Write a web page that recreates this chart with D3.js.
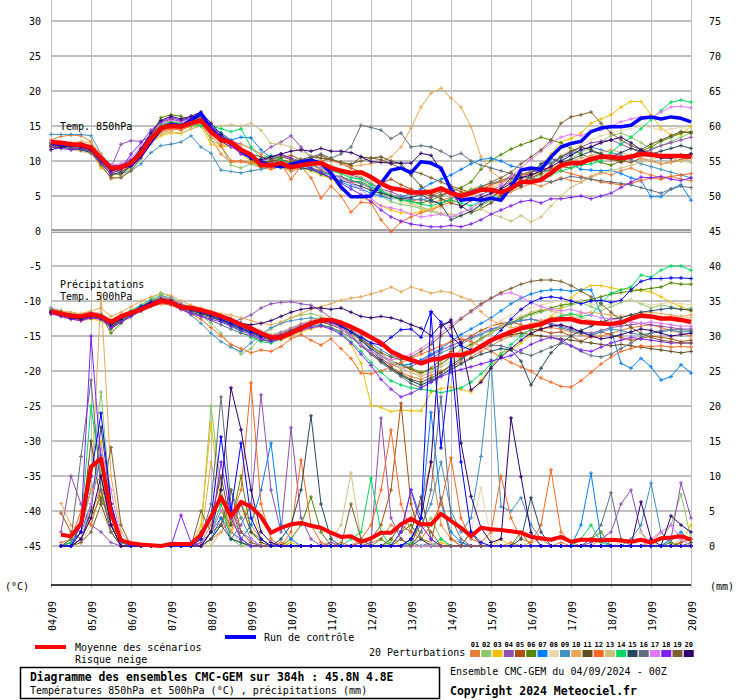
<!DOCTYPE html>
<html><head><meta charset="utf-8">
<script src="https://cdn.jsdelivr.net/npm/d3@7"></script>
<style>
body{margin:0;background:#fff;}
svg text{font-family:"DejaVu Sans Mono",monospace;fill:#000;}
</style></head><body>
<svg id="c" width="740" height="700"></svg>
<script>
// ---------------- DATA ----------------
const days = ["04/09","05/09","06/09","07/09","08/09","09/09","10/09","11/09","12/09","13/09","14/09","15/09","16/09","17/09","18/09","19/09","20/09"];
const leftTicks = [-45,-40,-35,-30,-25,-20,-15,-10,-5,0,5,10,15,20,25,30];
const rightTicks = [0,5,10,15,20,25,30,35,40,45,50,55,60,65,70,75];
const pertColors = ["#e8803a","#88c868","#f0c000","#9050b0","#b05010","#508800","#0080ff","#e8d8b0","#4090c0","#e8a858","#605020","#f86820","#d0c080","#00d860","#284860","#607080","#e078f8","#8020f8","#806030","#300070"];
const pertNames = ["01","02","03","04","05","06","07","08","09","10","11","12","13","14","15","16","17","18","19","20"];

// 6-hourly values, t = 0..64 (04/09 00Z .. 20/09 00Z)
const meanT850 = [12.7,12.6,12.4,12.3,11.9,10.4,9.0,9.1,9.7,11.1,
 13.2,14.7,15.0,14.9,15.4,15.8,14.2,13.0,12.7,11.6,
 10.9,9.4,9.4,9.7,9.1,9.4,9.6,9.7,9.0,8.6,
 8.3,8.4,7.7,6.8,6.1,5.9,5.5,5.5,5.6,6.1,
 5.4,5.0,5.4,5.9,5.9,5.5,6.1,7.0,7.0,7.3,
 8.3,9.4,9.7,9.7,10.3,10.6,10.6,10.4,10.6,11.0,
 10.9,10.7,10.7,10.7,10.6];
const ctlT850 = [12.5,12.4,12.3,12.2,11.8,10.2,8.9,9.2,9.4,10.8,
 12.8,14.6,15.2,15.0,15.8,16.8,14.6,13.2,12.6,11.5,
 10.5,9.8,9.4,9.2,9.5,9.9,10.1,9.7,8.3,6.3,
 4.9,4.9,5.0,6.8,8.7,9.0,8.3,9.9,9.7,9.0,
 5.9,4.4,4.6,4.4,4.7,4.4,6.3,8.7,9.0,8.8,
 10.6,12.0,12.5,12.8,14.2,14.7,14.9,14.9,15.1,16.1,
 16.3,16.0,16.3,16.1,15.6];
const meanT500 = [-11.5,-11.8,-12.1,-12.2,-11.9,-12.2,-13.0,-12.2,-11.7,-11.2,
 -10.6,-10.0,-10.2,-10.9,-11.0,-11.3,-11.7,-12.2,-12.7,-13.4,
 -13.9,-14.6,-15.2,-15.2,-14.6,-13.9,-13.2,-12.8,-12.7,-13.1,
 -13.7,-14.4,-15.2,-16.0,-17.2,-17.9,-18.4,-18.9,-18.4,-18.2,
 -17.7,-17.7,-17.3,-16.5,-15.6,-15.0,-14.4,-13.9,-13.6,-13.3,
 -12.7,-12.6,-12.6,-13.0,-13.1,-13.2,-13.3,-13.1,-12.5,-12.1,
 -12.2,-12.5,-12.5,-12.7,-13.0];
const ctlT500 = [-11.6,-11.9,-12.2,-12.4,-12.0,-12.3,-13.2,-12.4,-11.6,-10.8,
 -10.2,-9.8,-10.0,-10.8,-11.2,-11.6,-12.0,-12.6,-13.2,-13.8,
 -14.4,-15.0,-15.4,-15.0,-14.4,-13.8,-13.2,-12.8,-13.0,-13.6,
 -14.4,-15.2,-16.0,-16.3,-15.2,-14.1,-14.0,-15.2,-11.5,-13.0,
 -15.0,-16.4,-17.0,-16.6,-15.6,-14.2,-12.6,-11.2,-10.2,-9.6,
 -9.4,-9.6,-10.0,-10.4,-10.0,-9.9,-10.2,-9.9,-8.4,-7.2,
 -6.8,-6.8,-6.7,-6.7,-6.8];
// precipitation (mm / 6h), t = 1..64
const meanPrecip = [1.6,1.4,3.2,11.3,12.5,4.7,0.8,0.4,0.2,0.1,0,0.3,0.3,0.3,1.6,4.2,
 7.0,4.2,6.3,5.6,4.2,1.9,2.6,3.1,3.3,2.9,2.6,1.9,1.3,1.4,0.6,1.1,
 1.9,1.9,3.1,3.9,3.1,3.1,4.6,3.6,2.6,1.4,2.6,2.4,2.3,2.1,1.9,1.3,
 1.1,0.9,1.3,0.6,0.9,0.9,0.8,0.9,0.8,0.6,0.9,0.5,1.1,1.2,1.4,0.9];
const ctlPrecip = [0,0,2,10,19,6,1,0,0,0,0,0,0,0,1,4,
 15.6,5,14.7,4,1,0,0,0,0,0,0,0,0,0,0,0,
 0,0,0,1,4,33.3,14,27,12,2,0.5,0,0,0,0,0,
 0,0,0,0,0,0,0,0,0,0,0,0,0,0,0,0];

const pertT850 = [
[13.0,13.5,13.7,13.6,12.8,10.5,8.6,8.8,9.5,11.0,13.0,14.5,15.0,15.2,15.6,15.2,13.2,11.0,9.8,9.9,9.6,9.0,8.8,9.2,8.5,9.0,9.4,8.8,8.0,7.6,7.0,6.8,6.0,5.2,4.8,4.5,4.2,4.6,4.0,4.4,4.8,5.2,5.8,6.0,5.4,5.0,5.6,6.2,6.8,6.4,7.0,7.6,7.2,7.0,7.8,8.4,8.0,8.6,9.0,8.4,8.0,7.6,7.8,7.4,7.2],
[12.5,12.4,12.2,12.0,11.5,10.0,8.0,8.2,9.0,10.6,12.8,14.4,14.9,14.6,15.0,15.3,13.0,12.2,9.4,9.0,9.6,9.2,9.6,10.0,9.4,9.8,10.2,9.6,8.8,8.4,7.8,7.4,6.2,5.0,4.2,3.8,3.6,3.2,2.8,2.4,2.0,2.2,2.8,3.6,4.4,5.0,5.8,6.6,7.4,8.0,8.8,9.6,10.4,11.2,12.0,12.8,13.6,14.0,13.4,12.6,11.8,12.2,12.8,13.4,14.0],
[12.0,12.2,12.0,11.8,11.4,9.0,7.8,8.6,9.4,10.8,12.6,13.6,14.0,13.9,14.6,15.0,12.4,12.0,12.2,11.0,10.0,9.2,9.0,9.4,8.8,9.0,8.6,8.0,7.4,6.0,5.0,4.8,4.2,3.6,3.0,2.6,2.5,2.8,3.2,3.8,4.6,5.4,6.0,6.4,6.0,6.8,7.4,8.0,8.6,9.4,11.0,12.7,13.2,14.0,15.4,16.0,16.6,17.7,18.5,18.5,16.6,14.7,13.7,13.8,14.9],
[12.2,12.0,11.8,11.6,11.2,10.0,9.0,12.4,12.9,12.8,13.6,15.0,15.4,15.2,15.8,16.2,14.4,13.0,12.8,12.4,11.8,11.0,12.0,12.7,13.6,12.0,10.4,9.6,9.0,8.4,8.0,7.6,6.8,6.0,5.6,5.0,4.6,4.4,4.8,5.2,5.6,5.0,4.6,5.2,5.8,6.4,7.0,7.6,8.4,9.0,9.8,10.6,11.2,12.0,12.6,12.8,13.0,12.4,11.8,11.2,11.6,12.2,12.6,13.0,13.4],
[12.8,12.6,12.4,12.6,12.2,10.8,9.4,9.0,9.6,11.0,13.4,15.0,15.6,15.2,15.4,15.6,14.8,14.0,12.8,11.6,10.6,10.0,9.8,10.4,10.8,10.2,9.8,10.0,10.4,9.6,9.0,8.4,7.6,6.8,7.4,6.6,6.0,5.4,5.0,5.6,6.2,5.6,5.0,5.8,6.6,7.2,7.8,8.2,8.0,8.4,8.8,9.2,9.0,9.6,10.0,10.4,10.2,10.0,9.8,10.4,10.0,9.6,9.8,10.2,10.6],
[12.4,12.2,12.0,11.8,11.6,10.2,8.6,8.8,10.0,11.6,13.8,16.2,16.6,16.4,15.8,16.0,14.6,13.2,12.6,11.4,10.2,9.2,9.6,9.2,8.8,9.4,9.0,8.6,8.0,7.8,7.2,7.0,6.4,5.6,5.0,4.6,4.2,4.0,4.4,5.0,5.6,6.2,7.0,8.8,10.1,10.9,11.7,12.3,12.8,13.4,13.0,12.6,11.8,11.0,10.4,9.8,9.4,10.0,10.8,11.4,12.0,12.8,13.4,14.0,14.2],
[12.6,12.4,12.2,12.0,11.6,10.6,9.4,9.2,9.8,11.2,13.0,14.6,15.2,15.0,15.6,16.0,15.0,14.0,13.0,13.4,13.3,11.6,10.4,9.6,9.2,9.0,8.8,8.2,7.6,7.0,6.4,6.0,5.4,5.0,4.6,4.8,5.4,6.0,6.8,7.4,8.0,8.8,9.6,10.2,10.4,10.0,9.3,9.0,8.6,8.4,8.8,9.2,9.6,8.8,8.7,8.6,8.7,8.2,7.6,7.2,4.9,4.9,6.0,6.6,4.4],
[12.4,12.2,12.0,12.2,11.8,10.4,8.8,9.0,9.6,11.0,13.0,14.2,14.6,14.8,15.2,15.6,14.2,12.6,12.2,11.2,10.4,9.6,9.2,9.4,9.0,9.2,9.6,9.2,8.6,8.2,7.8,7.2,6.4,5.4,4.8,4.2,3.8,3.4,3.0,3.2,4.0,4.4,5.0,5.6,6.2,6.8,7.4,8.0,8.6,9.2,10.0,10.8,11.6,12.4,13.0,13.6,14.0,14.4,14.6,15.0,14.8,14.4,14.6,14.8,14.6],
[13.8,13.8,13.8,13.8,13.6,11.0,9.4,8.2,8.6,9.6,11.2,12.2,12.4,12.7,13.6,12.0,11.1,8.7,8.5,8.3,8.6,8.8,9.2,9.0,9.6,9.4,9.0,8.4,8.0,7.6,7.2,6.8,6.2,5.6,5.2,4.8,4.4,4.6,4.2,4.0,4.6,5.2,5.8,6.4,6.8,7.2,7.6,8.0,8.6,9.2,9.8,10.4,11.0,11.6,12.0,11.6,11.2,10.8,10.2,9.6,9.2,8.8,8.4,8.0,7.6],
[12.2,12.4,12.6,12.8,12.6,11.0,9.2,8.8,9.4,10.8,12.6,14.0,14.4,14.6,15.0,15.6,14.4,12.4,12.0,12.4,11.8,11.0,10.4,10.0,9.8,9.6,10.4,10.8,10.0,9.6,9.2,9.4,9.6,9.9,10.6,12.0,14.7,17.7,19.7,20.4,19.0,17.7,14.9,10.6,8.6,7.4,7.0,7.4,7.8,8.4,9.0,9.6,10.0,10.4,10.8,11.2,11.6,11.2,10.8,10.4,10.0,9.6,9.8,10.0,10.4],
[12.6,12.4,12.2,12.4,12.0,10.2,8.4,8.0,9.4,11.4,13.8,15.4,16.0,15.6,16.2,16.8,15.0,13.6,12.4,11.2,10.4,9.8,10.0,10.2,9.8,10.2,10.6,10.4,10.2,9.8,9.4,10.6,10.4,10.6,10.0,9.6,8.0,6.4,5.2,4.6,4.0,3.6,2.6,3.2,4.0,5.0,6.0,7.0,7.6,8.2,9.4,10.6,11.4,12.0,11.6,11.0,10.4,9.8,10.6,11.6,12.4,13.0,13.6,14.2,14.0],
[12.4,12.2,12.0,11.8,11.4,10.0,8.4,8.6,9.2,10.6,12.6,14.2,14.6,14.4,15.0,15.4,13.6,12.2,10.0,10.0,9.8,9.4,9.0,9.6,7.4,9.2,7.6,4.7,6.4,5.0,2.7,4.1,4.0,1.6,-0.1,1.3,2.0,2.6,3.0,3.6,4.2,4.8,5.4,6.0,6.6,7.0,7.6,8.0,8.4,8.8,9.0,8.6,8.2,7.8,7.4,7.0,6.8,6.6,6.8,7.2,7.6,7.4,7.8,8.0,8.2],
[12.0,11.8,11.6,11.4,11.0,9.6,7.4,7.8,8.6,10.4,12.4,13.8,14.2,14.0,14.6,15.0,14.6,15.0,15.2,15.0,15.4,14.4,12.5,12.4,12.0,11.4,10.8,10.0,9.4,8.8,8.2,7.8,7.0,6.0,5.2,4.6,4.0,3.4,3.0,2.6,2.4,2.2,2.8,3.2,2.4,2.0,1.4,2.2,1.3,2.0,3.6,5.0,6.2,7.0,7.6,8.2,8.6,9.0,9.4,9.8,10.2,10.6,10.4,10.0,9.8],
[12.6,12.4,12.0,12.2,11.6,10.2,8.8,9.2,10.0,11.6,13.6,15.2,15.6,15.4,15.2,15.0,15.0,14.6,14.2,14.6,12.0,10.4,10.8,10.2,9.4,9.0,9.4,9.0,8.6,8.2,7.6,7.4,6.6,5.8,5.0,4.4,4.2,3.8,3.6,4.0,4.4,4.0,3.6,4.2,4.8,5.6,6.4,7.2,7.0,7.6,8.0,8.6,9.0,9.4,9.6,10.0,11.2,12.4,13.4,14.6,15.9,17.2,18.4,18.7,18.4],
[12.2,12.0,11.8,11.6,11.2,9.8,8.0,8.4,9.2,10.8,12.8,14.6,15.2,15.0,15.4,15.8,14.0,12.8,12.0,11.4,10.4,9.8,9.4,9.8,9.4,9.0,8.8,8.2,7.6,7.2,6.8,6.4,5.8,5.4,5.0,4.6,4.8,5.2,4.4,3.8,1.6,2.2,2.8,3.8,4.6,6.0,7.6,6.4,8.2,9.6,10.4,9.8,10.2,10.8,11.4,11.0,10.6,11.2,11.8,11.4,11.0,11.4,11.8,12.2,11.8],
[12.4,12.2,12.0,11.8,11.4,10.0,9.0,9.4,10.2,11.4,13.0,14.6,15.2,15.0,15.4,15.8,14.4,13.0,12.4,11.6,10.8,10.0,10.4,10.8,10.4,10.0,10.6,11.0,10.4,11.0,12.0,15.1,14.8,14.4,13.2,14.0,12.0,12.2,12.0,11.4,10.6,11.1,10.0,9.4,9.0,8.6,8.2,7.8,7.6,7.2,7.0,7.4,7.8,7.6,7.4,7.2,7.0,6.8,6.6,6.2,5.8,5.4,6.0,6.4,6.2],
[12.8,12.6,12.4,12.2,11.8,10.6,9.4,9.6,10.4,12.0,14.0,15.4,15.8,15.6,16.0,16.4,15.0,13.6,12.0,11.4,10.8,9.8,9.6,9.4,9.0,9.2,9.6,9.0,8.2,7.6,6.8,6.0,4.6,3.6,3.3,3.0,2.4,2.0,2.2,2.4,2.0,2.6,3.2,4.2,5.4,6.6,7.8,9.0,10.2,11.4,12.6,13.4,13.8,13.6,14.2,14.4,15.0,15.6,16.0,16.3,16.2,17.0,17.7,17.8,17.6],
[12.0,11.8,11.6,11.8,11.4,9.6,8.2,8.8,11.0,12.6,14.4,15.6,16.2,15.8,16.2,16.6,15.0,13.4,12.2,11.0,10.4,10.0,10.6,11.0,10.4,9.4,9.0,8.4,7.6,6.8,6.0,5.2,4.2,3.0,2.0,1.4,1.0,0.8,0.6,0.6,0.8,0.6,1.0,1.6,2.4,3.0,3.6,4.2,4.4,4.0,4.6,4.6,4.8,5.0,4.6,5.0,5.4,6.2,7.0,7.7,7.6,7.8,7.4,7.2,7.6],
[12.2,12.0,12.2,12.0,11.2,9.4,7.6,7.6,8.6,10.4,12.8,15.0,15.4,15.2,15.8,16.4,14.8,13.2,12.4,11.8,11.0,10.6,10.2,10.6,10.2,9.8,10.4,10.8,10.2,9.8,9.6,10.0,10.4,10.2,9.6,9.0,8.6,8.2,7.6,7.0,6.4,6.0,5.4,6.2,7.0,7.6,8.4,9.6,10.6,11.6,13.0,15.4,16.3,16.6,17.0,15.4,14.0,13.0,12.2,11.6,11.2,10.8,10.6,10.8,11.0],
[11.6,12.0,12.2,12.0,11.6,10.2,8.6,9.0,10.0,11.8,14.0,15.8,16.4,16.0,16.4,17.0,15.4,13.8,12.6,11.6,10.4,10.2,10.6,11.0,11.4,11.6,11.4,11.8,11.4,11.4,11.2,10.6,9.9,9.8,9.7,9.7,9.7,11.1,10.8,8.7,5.9,3.4,4.4,4.8,5.4,6.0,6.8,7.6,8.0,8.6,9.2,10.0,10.8,11.6,12.0,12.6,13.0,13.4,12.6,11.6,10.8,10.4,10.4,10.8,11.0]
];

const pertT500 = [
[-11.2,-11.6,-12.0,-12.2,-11.8,-12.0,-13.2,-12.4,-11.8,-11.0,-10.4,-9.8,-10.0,-10.8,-11.0,-11.4,-11.8,-12.4,-13.0,-13.6,-14.2,-15.0,-15.6,-15.4,-14.8,-14.0,-13.4,-13.0,-13.2,-13.8,-14.6,-15.6,-16.8,-18.0,-19.4,-20.2,-20.8,-21.2,-20.6,-20.0,-19.4,-18.8,-18.0,-17.2,-16.4,-15.6,-15.0,-14.6,-14.2,-14.0,-13.8,-14.0,-14.4,-14.8,-15.2,-15.0,-14.6,-14.2,-13.8,-13.6,-13.4,-13.8,-14.2,-14.6,-15.0],
[-11.4,-11.8,-12.2,-12.6,-12.2,-12.4,-13.6,-12.6,-11.6,-11.0,-9.6,-8.8,-9.4,-10.4,-11.0,-12.0,-13.2,-14.6,-16.4,-17.6,-16.8,-15.2,-14.0,-13.2,-12.4,-12.0,-11.8,-12.2,-12.8,-13.6,-14.8,-16.0,-17.4,-18.6,-19.8,-20.6,-21.4,-22.0,-21.2,-20.2,-19.0,-17.8,-16.6,-15.4,-14.4,-13.6,-13.0,-12.6,-12.0,-11.6,-11.2,-11.0,-10.6,-10.2,-10.8,-11.4,-10.8,-10.2,-9.8,-10.4,-11.0,-10.6,-10.8,-11.2,-11.0],
[-11.6,-12.0,-12.4,-12.8,-12.6,-12.8,-13.8,-13.0,-12.2,-11.4,-10.6,-10.2,-10.4,-11.0,-11.4,-11.6,-12.0,-12.4,-12.8,-13.4,-14.0,-14.6,-15.4,-15.6,-15.0,-14.4,-14.0,-13.6,-13.8,-14.4,-16.2,-18.9,-24.9,-25.2,-25.8,-25.6,-25.7,-25.7,-23.0,-22.5,-22.3,-22.6,-23.0,-21.3,-19.4,-17.4,-17.0,-16.0,-14.9,-13.6,-12.2,-11.0,-9.6,-8.4,-7.8,-7.8,-8.1,-8.4,-8.2,-8.5,-8.7,-9.4,-10.2,-10.8,-11.5],
[-11.0,-11.4,-11.8,-12.0,-11.6,-11.8,-12.8,-12.0,-11.4,-10.8,-10.2,-9.6,-9.8,-10.6,-11.2,-11.6,-12.2,-12.8,-13.0,-12.6,-12.0,-11.0,-10.4,-10.2,-10.1,-10.4,-10.6,-11.4,-12.4,-13.6,-15.0,-16.4,-17.6,-18.4,-19.0,-19.6,-19.4,-18.6,-17.8,-17.0,-16.4,-15.8,-15.2,-14.6,-14.0,-13.6,-13.2,-12.8,-12.6,-12.8,-13.2,-13.6,-14.0,-14.4,-14.6,-14.2,-13.8,-13.6,-13.4,-13.2,-13.4,-13.6,-13.8,-14.0,-14.0],
[-11.6,-11.8,-12.0,-12.4,-12.0,-12.2,-13.4,-12.8,-12.0,-11.2,-10.4,-9.6,-9.8,-10.6,-11.2,-11.4,-11.6,-12.0,-12.6,-13.2,-13.8,-14.4,-15.0,-14.8,-14.2,-13.6,-13.2,-12.8,-13.0,-13.4,-14.2,-15.4,-16.6,-17.8,-18.8,-19.2,-19.8,-20.4,-19.6,-18.4,-17.2,-16.0,-15.0,-14.2,-13.6,-13.2,-13.0,-13.4,-14.0,-14.2,-14.6,-14.4,-15.0,-15.8,-15.0,-14.4,-14.8,-15.2,-15.6,-15.4,-15.0,-15.2,-15.4,-15.8,-15.6],
[-11.4,-11.6,-11.8,-12.0,-11.8,-12.0,-14.6,-13.2,-12.0,-11.0,-10.2,-9.4,-9.6,-10.4,-10.8,-11.2,-11.8,-12.4,-12.8,-13.4,-14.0,-14.6,-15.0,-14.6,-14.0,-13.4,-12.8,-12.4,-12.6,-13.2,-14.0,-15.2,-16.4,-17.6,-18.6,-19.0,-19.6,-20.2,-19.8,-19.0,-18.0,-17.0,-16.2,-15.4,-14.6,-13.8,-13.2,-12.4,-11.8,-11.4,-11.0,-10.6,-10.4,-10.0,-9.8,-9.4,-9.0,-8.8,-8.6,-8.4,-8.2,-8.0,-7.4,-7.6,-7.6],
[-11.8,-12.0,-12.2,-12.4,-12.0,-12.4,-13.4,-12.6,-11.8,-11.2,-10.6,-10.2,-10.4,-11.0,-11.4,-11.8,-12.2,-12.6,-13.2,-14.0,-14.6,-15.0,-15.4,-15.0,-14.4,-13.8,-13.2,-12.8,-13.0,-13.6,-14.4,-15.6,-16.8,-17.8,-18.6,-19.2,-19.0,-18.4,-17.6,-16.8,-15.8,-14.8,-14.0,-13.2,-12.4,-11.4,-10.4,-9.6,-9.0,-8.6,-8.4,-8.4,-8.6,-8.4,-8.4,-11.8,-14.1,-18.9,-19.6,-18.2,-19.4,-21.3,-20.8,-19.1,-20.3],
[-11.2,-11.4,-11.8,-12.0,-11.6,-11.8,-12.8,-12.0,-11.2,-10.6,-10.0,-9.4,-9.8,-10.4,-10.8,-11.2,-11.6,-12.0,-12.6,-13.2,-13.8,-14.2,-14.8,-14.6,-14.0,-13.4,-12.8,-12.2,-12.4,-12.8,-13.6,-14.8,-16.2,-17.4,-18.6,-19.4,-20.2,-20.6,-20.0,-19.2,-18.2,-17.0,-15.8,-14.6,-13.6,-12.8,-12.0,-11.4,-11.0,-10.6,-10.2,-10.0,-9.8,-10.0,-10.4,-10.8,-10.4,-10.0,-9.8,-10.2,-10.6,-10.4,-10.2,-10.4,-10.5],
[-11.4,-11.8,-12.2,-12.4,-12.0,-12.2,-13.4,-12.4,-11.6,-10.8,-10.2,-9.8,-10.2,-11.0,-12.0,-13.2,-14.6,-15.8,-16.6,-17.2,-16.0,-14.8,-13.8,-13.2,-12.8,-12.6,-12.4,-12.6,-13.0,-13.6,-14.2,-15.0,-16.0,-17.0,-17.8,-18.2,-18.6,-18.8,-18.2,-17.4,-16.8,-16.2,-15.4,-14.8,-14.2,-13.6,-13.0,-12.8,-12.6,-13.0,-13.4,-13.8,-14.2,-14.6,-14.8,-14.4,-14.0,-14.2,-14.6,-14.8,-14.6,-14.4,-14.2,-14.4,-14.4],
[-11.2,-11.4,-11.6,-11.8,-11.4,-11.0,-12.2,-11.6,-10.8,-10.0,-9.4,-9.0,-9.2,-10.0,-10.6,-11.0,-11.4,-11.8,-12.0,-12.4,-12.8,-13.2,-13.4,-13.0,-12.4,-11.8,-11.2,-10.8,-10.4,-9.9,-9.6,-9.4,-9.0,-8.6,-8.0,-8.7,-8.0,-8.4,-8.9,-8.6,-8.8,-9.4,-9.9,-11.5,-12.7,-13.4,-13.8,-13.6,-13.2,-12.8,-12.4,-12.2,-12.0,-11.8,-11.6,-11.8,-12.0,-12.2,-12.0,-11.8,-11.6,-11.8,-12.0,-12.2,-12.0],
[-11.6,-11.8,-12.0,-12.2,-11.8,-12.0,-14.0,-13.0,-12.2,-11.4,-10.6,-10.0,-10.2,-11.0,-11.6,-12.0,-12.4,-12.8,-13.4,-14.0,-14.6,-15.2,-15.6,-15.2,-14.6,-14.0,-13.4,-13.0,-13.4,-14.0,-15.0,-16.2,-17.4,-18.6,-19.6,-20.4,-21.2,-21.6,-21.0,-20.2,-19.2,-18.2,-17.2,-16.4,-15.8,-15.2,-14.8,-14.6,-14.8,-15.0,-15.2,-15.4,-15.6,-15.8,-16.0,-16.2,-16.4,-16.2,-16.4,-16.6,-16.8,-17.0,-17.2,-17.4,-17.2],
[-11.8,-12.2,-12.6,-12.8,-12.4,-12.6,-13.6,-12.8,-12.0,-11.4,-10.8,-10.4,-10.6,-11.2,-11.8,-12.6,-13.8,-15.0,-16.2,-16.8,-17.4,-17.0,-17.2,-16.5,-15.4,-14.8,-15.6,-16.3,-15.4,-16.8,-18.2,-20.3,-20.4,-20.0,-19.4,-18.8,-18.2,-17.6,-17.0,-16.4,-15.8,-15.4,-15.8,-16.4,-17.2,-18.0,-18.8,-19.4,-20.0,-21.0,-21.6,-22.2,-22.3,-21.4,-20.2,-19.0,-18.0,-17.2,-16.8,-16.4,-16.5,-16.4,-16.6,-16.5,-16.6],
[-11.4,-11.6,-11.8,-12.0,-11.8,-12.0,-12.8,-12.2,-11.4,-10.8,-10.2,-9.8,-10.0,-10.6,-11.0,-11.4,-11.8,-12.2,-12.8,-13.2,-13.8,-14.4,-14.8,-14.4,-13.8,-13.2,-12.8,-12.4,-12.6,-13.2,-14.0,-15.2,-16.4,-17.6,-18.8,-19.6,-20.2,-20.8,-20.2,-19.4,-18.6,-17.6,-16.6,-15.6,-14.6,-13.6,-12.8,-12.2,-11.6,-11.2,-11.4,-11.8,-12.2,-12.4,-12.8,-13.0,-12.6,-12.2,-12.0,-12.2,-12.4,-12.6,-12.4,-12.2,-12.4],
[-11.2,-11.6,-12.0,-12.4,-12.0,-12.2,-13.0,-12.2,-11.4,-10.6,-9.8,-9.2,-9.6,-10.4,-11.0,-11.6,-12.2,-12.8,-13.6,-14.4,-15.2,-15.8,-16.0,-15.4,-14.6,-14.0,-13.6,-13.4,-13.8,-14.6,-15.8,-17.2,-18.8,-20.2,-21.4,-22.0,-22.4,-22.6,-22.8,-23.1,-22.8,-22.4,-21.6,-20.4,-19.0,-17.6,-16.2,-15.0,-14.0,-13.2,-12.6,-12.2,-11.8,-12.2,-12.0,-10.4,-8.9,-8.4,-8.0,-6.3,-6.6,-5.6,-5.0,-5.0,-5.6],
[-11.6,-12.0,-12.2,-12.4,-12.2,-12.4,-13.8,-12.8,-12.0,-11.2,-10.4,-9.8,-10.0,-10.8,-11.4,-11.8,-12.2,-12.8,-13.4,-14.0,-14.4,-14.8,-15.0,-14.6,-14.0,-13.4,-13.0,-12.6,-12.8,-13.4,-14.4,-15.6,-17.0,-18.4,-19.6,-20.6,-21.4,-22.0,-21.4,-20.6,-19.8,-19.0,-18.2,-17.6,-17.2,-16.8,-17.0,-18.6,-22.0,-19.6,-17.4,-16.0,-15.0,-14.2,-13.6,-13.0,-12.6,-12.4,-12.0,-11.6,-11.4,-11.2,-11.0,-11.2,-11.3],
[-11.8,-12.0,-12.4,-12.6,-12.4,-12.6,-13.6,-12.8,-12.0,-11.2,-10.4,-9.8,-10.2,-11.0,-11.6,-12.2,-12.8,-13.4,-14.0,-14.6,-15.0,-15.6,-15.8,-15.2,-14.6,-14.0,-13.6,-13.4,-13.8,-14.4,-15.2,-16.4,-17.6,-18.8,-19.8,-20.8,-21.8,-22.4,-21.6,-20.6,-19.6,-18.4,-17.4,-16.6,-16.3,-16.4,-16.8,-17.4,-17.8,-17.2,-16.6,-16.0,-16.4,-17.2,-17.8,-18.0,-17.6,-16.8,-16.0,-15.2,-14.6,-14.2,-14.1,-14.1,-14.2],
[-11.4,-11.8,-12.2,-12.4,-12.0,-12.2,-13.2,-12.4,-11.6,-10.8,-10.0,-9.4,-9.6,-10.4,-11.0,-11.4,-11.8,-12.2,-12.8,-13.4,-14.0,-14.6,-15.0,-14.6,-14.0,-13.4,-13.0,-12.8,-13.2,-14.0,-15.0,-16.2,-17.2,-18.0,-18.4,-18.2,-17.6,-16.8,-15.8,-14.6,-13.4,-12.4,-11.6,-10.6,-9.6,-9.0,-8.8,-9.4,-10.2,-10.8,-11.2,-11.4,-11.2,-11.6,-12.0,-12.4,-12.6,-12.8,-13.0,-13.2,-13.0,-13.2,-13.4,-13.6,-13.6],
[-11.8,-12.2,-12.6,-12.8,-12.4,-12.6,-13.8,-13.0,-12.2,-11.4,-10.6,-10.0,-10.4,-11.2,-11.8,-12.2,-12.6,-13.0,-13.6,-14.2,-14.8,-15.4,-15.8,-15.4,-14.8,-14.2,-13.8,-13.6,-14.0,-14.8,-16.0,-17.6,-19.2,-21.2,-22.6,-23.7,-23.2,-22.4,-21.6,-20.8,-20.2,-19.8,-19.4,-19.0,-18.6,-18.2,-17.8,-17.0,-16.2,-15.6,-15.2,-15.6,-16.4,-17.0,-17.2,-16.6,-16.0,-15.6,-15.2,-15.4,-15.6,-15.8,-16.0,-16.0,-16.0],
[-11.4,-11.6,-12.0,-12.2,-11.8,-12.0,-13.0,-12.4,-11.6,-10.8,-10.0,-9.6,-9.8,-10.6,-11.2,-11.6,-12.0,-12.4,-13.0,-13.6,-14.2,-14.8,-15.2,-14.8,-14.2,-13.6,-13.2,-12.8,-13.0,-13.6,-14.4,-15.4,-16.4,-17.4,-18.0,-18.4,-18.0,-17.2,-16.2,-15.0,-13.8,-12.6,-11.4,-10.4,-9.6,-8.8,-8.2,-7.6,-7.2,-7.0,-7.0,-7.2,-7.8,-8.6,-9.4,-10.4,-11.6,-12.8,-13.8,-14.6,-15.2,-15.6,-15.8,-16.0,-16.0],
[-11.6,-12.0,-12.4,-12.6,-12.2,-12.4,-13.4,-12.6,-11.8,-11.0,-10.4,-10.0,-10.2,-10.8,-11.2,-11.6,-12.0,-12.4,-12.8,-13.2,-13.4,-13.2,-12.8,-12.2,-11.6,-11.2,-11.0,-11.0,-11.2,-11.0,-11.6,-12.2,-12.4,-12.2,-12.4,-12.8,-13.4,-13.9,-15.0,-13.4,-13.0,-16.0,-22.7,-21.6,-19.6,-18.0,-16.8,-15.6,-14.6,-14.0,-13.6,-13.4,-13.8,-14.4,-15.0,-15.4,-15.2,-14.8,-14.4,-14.0,-14.2,-14.6,-15.0,-14.8,-14.6]
];

// precipitation per member, t = 1..64
const pertPrecip = [
[0.5,1,3,8,10,4,0.5,0,0,0,0,0,0,0,0.5,3, 8,2,6,3,1,0,0.5,0,0,0,0,0,0.5,0,0,0.5, 1,3,2,4,6,12,3,1,0.5,0,0,0,0,0.5,0,0, 0,0,0.5,0,0,0,1,0,0,0,0,0.5,2,0.5,0,0],
[0,0.5,2,10,22,6,0.5,0,0,0,0,0,0,0,2,20, 8,1,0,0.5,0,0,0,0,0,0,0,0,0,0,0,0, 0,0.5,1,0,2,4,1,0,0,0,0,0,0,0,0,0, 0,0,0,0,0,0,0,0,0,0,0,0,1,3,7.4,1],
[0,0,1,6,15,4,0,0,0,0,0,0,0,0,3,17.6, 6,2,4,6,1,0,0,0.5,0,0,0,0,0,0,0,0, 0,1,0,0,0,0,0.5,0,0,0,0,0,1,0,0,0, 0,0,0,0,0,0,0,0,0,0,0,0,0,0,0.5,3],
[2,10,6,3,2,0.5,0,0,0,0,0,0,0,0,0.5,2, 4,1,3,6,21.6,8,2,16.9,4,1,0,0.5,0,0,0,0.5, 18.3,4,1,0,0,0.5,0,0,0,0,0,0,0,0,0,0, 0,0,0,0,0,0.5,1,2,6,8,2,0,0,1,9,4],
[4.7,2,1,5,8,3,0,0,0,0,0,0,0,0,0,1, 3,6,2,1,0,0,0,0,0,0,0,0,0,0,0.5,1, 3,8,20.4,6,1,0.5,6.9,1,0,0,0,0,0,0,0,0, 0,0,0,0,0,0,0,0,0,0,0,0,0,0,0.5,1],
[0,0,1,4,7,3,1,0,0,0,0,0,0,0,0,2, 5,3,10,2,1,0,0,1,3,7,2,0,0,0,0,0, 1,0,2,3,1,0,0,0,0,0,0,0,0,0,2,0, 0,0,0,0,0,1,2,0,0,0,0,0,0,0.5,0,0],
[0,0,2,6,13,5,0.5,0,0,0,0,0,0,0,0,1, 4,2,1,3,8,14.7,3,1,0,0,0,0,0,0,0,0, 0,0,2,8,4,19.1,6,2,0.5,0,0,0,0,0,0,0, 0,0,0,0,3,10.4,1,0,0,0,0,0,0,1,2,0.5],
[0,0,0.5,3,5,2,0,0,0,0,0,0,0,0,0,0.5, 2,4,1,0.5,0,0,0,0,0,0,0,0,0,0,0,0, 0,0,0,1,2,0.5,0,0,0,2,8.3,1,0,0,0,0, 0,0,0,0,0,0,0,0,0.5,1,2,0.5,0,0,0,0],
[0,0.5,3,8,12,3,0,0,0,0,0,0,0,0,0,1, 3,8,4,1,0,0,0,0,0,0,0,0,0,0,0,0, 0,0,0,1,3,6,12,5,2,4,12.8,26.6,5.6,5,6.9,3, 1,0,0,0,0,0,0,0,0,1,3,9,2,0,0,0],
[6.1,3,2,8,36,10,2,0,0,0,0,0,0,0,1,12, 5,2,0.5,0,0,0,0,0,0,0,0,0,0,0,0,0, 0,0,0,0,0,0,0,0,0,0,0,0,0,0,0,0.5, 1,0,0,0,0,0,0,0,0,0,0,0,0,0,0,0],
[0,0.5,2,15,6,2,0,0,0,0,0,0,0,0,2,4, 10,3,6,2,0.5,0,0,0,0,0,0,0,0,0,0,0, 0,1,3,2,7,1,0,0,0,2,0,0,0,0,0,0, 0,0,0,0,0,0,0,0,0,0,0,0,0,0,0,0.5],
[0,1,5,3,8,2,0,0,0,0,0,0,0,0,0,1, 2,4,8,23.3,6,1,0,2,12.3,3,0.5,0,0,0,1,3, 8,16.6,6,2,1,3,6,12.6,4,1,0.5,2,10,4,1,0.5, 3,10.9,2,0.5,0,0,0,0,0,0,0,0,0,0,0,0],
[0,0,1,4,9,3,0,0,0,0,0,0,0,0,0,0, 2,5,1,0,0,0,0,0,0,0,0,1,3,10.4,1,0, 0,0,0,0.5,1,0,0,0,0,0,0,0,0,0,0,0, 0,0,0,0,0,0,0,0,0,0,0,0,0,0,1,0],
[0,0.5,3,20,10,3,0,0,0,0,0,0,0,0,0,2, 6,1,0.5,0,0,0,0,0,0,0,0,0,0,1,2,9.7, 2,0,0,0.5,0,0,1,0,0,0,0,0,0,0,0,0, 0,0,0,0,1,3,0.5,0,0,0,0,0,0,0,0,0],
[0,0,1,5,17,6,1,0,0,0,0,0,0,0,0,1, 3,1,0.5,0,0,0,1,3,8,18.6,6,1,0,0,0,0, 0,0,0,0,1,0,0,0,0,0,0,0,0,0,1,6.9, 2,0,0,0,0,0,0,0,0,0,0,0,0,0,0,0],
[0,1,12.8,23.7,8,2,0,0,0,0,0,0,0,0,1,6, 21.3,6,1,0,0,0,0,0,0,0,0,0,0,0,0,0, 0,0,0,0,2,8,21.3,4,1,0,0,0,0,0,0,0, 0,0,0,0,0,1,3,7.6,1,0,0,0,0,0,0,0],
[0,0,1,6,14,8,1,0,0,0,0,0,0,0,0,2, 5,6,2,1,0,0,0,0,0,0,0,0,0,0,0,0, 0,0,0,0,0,0,0,0,0,0,0,0,0,0,0,0, 0,0,0,0,0,0,0,0,0,0,0,1,2,3,1,0],
[0,0,3,30,12,3,0,0,0,0,0,0,4.4,0.5,0,2, 12,4,1,0,0,0,0,0,0,0,0,0,0,0,0,0, 0,0,2,8,3,1,0,0,0,0,0,0,0,0,0,0, 0,0,0,0,0,0,0,0,0,0,0,0,0,0,0,0],
[0,0,0.5,2,6,14.1,3,0,0,0,0,0,0,0,5,2, 3,8,2,0.5,0,0,0,0,0,0,0,0,0,6,1,0, 0,0,1,0,4,2,0,0,0,0,0,0,0,0,0,0, 0,0,0,0,0,0,0,0,0,0,0,0,0,0,0,0],
[0,0,1,4,10,3,0,0,0,0,0,0,0,0,0,2, 8,22.6,16.6,8,2,0.5,0,0,0,0,0,0,0,0,0,0, 0,0,0,1,4,12,31.3,32.3,14.7,7.1,2.6,0.5,1,18.3,9.9,1.9, 0,0,0,0,0,0,0,0,0,0,6.3,1,0,4.3,3,2]
];

// ---------------- CHART ----------------
const svg = d3.select("#c");
const X0 = 51, X1 = 691;
const x = d3.scaleLinear().domain([0,64]).range([X0,X1]);
const xDay = d3.scaleLinear().domain([0,16]).range([X0,X1]);
const y = d3.scaleLinear().domain([-45,30]).range([546,21]);
const yP = d3.scaleLinear().domain([0,75]).range([546,21]);

// grid
const grid = svg.append("g").attr("shape-rendering","crispEdges");
grid.selectAll("line.v").data(days).enter().append("line")
  .attr("x1",(d,i)=>xDay(i)).attr("x2",(d,i)=>xDay(i))
  .attr("y1",0).attr("y2",588).attr("stroke","#c0c0c0").attr("stroke-width",1);
grid.selectAll("line.h").data(leftTicks.filter(v=>v!==0)).enter().append("line")
  .attr("x1",X0).attr("x2",X1).attr("y1",d=>y(d)).attr("y2",d=>y(d))
  .attr("stroke","#c0c0c0").attr("stroke-width",2);
// double zero line
grid.append("rect").attr("x",X0).attr("width",X1-X0).attr("y",y(0)-2).attr("height",3.5).attr("fill","#a0a0a0");
grid.append("rect").attr("x",X0).attr("width",X1-X0).attr("y",y(0)-0.5).attr("height",1).attr("fill","#d8d8d8");

// bottom axis line
svg.append("line").attr("x1",X0).attr("x2",X1).attr("y1",585).attr("y2",585)
  .attr("stroke","#000").attr("stroke-width",1.5);

// axes
const axL = svg.append("g").attr("transform",`translate(${X0},0)`)
  .call(d3.axisLeft(y).tickValues(leftTicks).tickSize(0).tickPadding(10).tickFormat(d=>String(d)));
const axR = svg.append("g").attr("transform",`translate(${X1},0)`)
  .call(d3.axisRight(yP).tickValues(rightTicks).tickSize(0).tickPadding(18).tickFormat(d=>String(d)));
[axL,axR].forEach(a=>{
  a.select(".domain").remove();
  a.attr("font-family",null).attr("font-size",null);
  a.selectAll("text").attr("font-size","10px").attr("dy","0.35em");
});

// x labels (rotated)
svg.append("g").selectAll("text").data(days).enter().append("text")
  .attr("transform",(d,i)=>`translate(${xDay(i)+1},631) rotate(-90)`)
  .attr("dy","0.35em").attr("font-size","10px").text(d=>d);

svg.append("text").attr("x",5).attr("y",590).attr("font-size","10px").text("(°C)");
svg.append("text").attr("x",710).attr("y",590).attr("font-size","10px").text("(mm)");

// series
const plot = svg.append("g");
function draw(vals, t0, ys, color, w, marks){
  const line = d3.line().x((d,i)=>x(i+t0)).y(d=>ys(d));
  plot.append("path").datum(vals).attr("d",line).attr("fill","none")
    .attr("stroke",color).attr("stroke-width",w).attr("stroke-linejoin","round");
  if(marks){
    plot.append("path").attr("fill","none").attr("stroke",color).attr("stroke-width",1)
      .attr("d",vals.map((d,i)=>{const px=x(i+t0), py=ys(d);return `M${px-2},${py}H${px+2}M${px},${py-2}V${py+2}`;}).join(""));
  }
}
pertColors.forEach((c,i)=>{
  draw(pertPrecip[i],1,yP,c,1,true);
  draw(pertT500[i],0,y,c,1,true);
  draw(pertT850[i],0,y,c,1,true);
});
draw(ctlPrecip,1,yP,"#0000ff",1,true);
draw(ctlT500,0,y,"#0000ff",1,true);
draw(ctlT850,0,y,"#0000ff",3.5,false);
draw(meanPrecip,1,yP,"#ff0000",4,false);
draw(meanT500,0,y,"#ff0000",4.5,false);
draw(meanT850,0,y,"#ff0000",4.5,false);

// in-plot labels
svg.append("text").attr("x",60).attr("y",130).attr("font-size","10px").text("Temp. 850hPa");
svg.append("text").attr("x",60).attr("y",288).attr("font-size","10px").text("Précipitations");
svg.append("text").attr("x",60).attr("y",300).attr("font-size","10px").text("Temp. 500hPa");

// legend
svg.append("line").attr("x1",35).attr("x2",66).attr("y1",647).attr("y2",647).attr("stroke","#ff0000").attr("stroke-width",4);
svg.append("text").attr("x",75).attr("y",651).attr("font-size","10px").text("Moyenne des scénarios");
svg.append("text").attr("x",75).attr("y",663).attr("font-size","10px").text("Risque neige");
svg.append("line").attr("x1",225).attr("x2",256).attr("y1",637).attr("y2",637).attr("stroke","#0000ff").attr("stroke-width",4);
svg.append("text").attr("x",264).attr("y",641).attr("font-size","10px").text("Run de contrôle");
svg.append("text").attr("x",369).attr("y",656).attr("font-size","10px").text("20 Perturbations");
const lg = svg.append("g");
lg.selectAll("rect").data(pertColors).enter().append("rect")
  .attr("x",(d,i)=>470+i*11.25).attr("y",650).attr("width",10).attr("height",7).attr("fill",d=>d);
lg.selectAll("text").data(pertNames).enter().append("text")
  .attr("x",(d,i)=>475+i*11.25).attr("y",647).attr("text-anchor","middle")
  .attr("font-size","7px").attr("font-weight","bold").text(d=>d);

// title box
svg.append("rect").attr("x",20.5).attr("y",667.5).attr("width",419).attr("height",31)
  .attr("fill","none").attr("stroke","#000").attr("stroke-width",1.5);
svg.append("text").attr("x",30).attr("y",681).attr("font-size","11.4px").attr("font-weight","bold")
  .text("Diagramme des ensembles CMC-GEM sur 384h : 45.8N 4.8E");
svg.append("text").attr("x",30).attr("y",694).attr("font-size","10px")
  .text("Températures 850hPa et 500hPa (°C) , précipitations (mm)");
svg.append("text").attr("x",450).attr("y",675).attr("font-size","10px").text("Ensemble CMC-GEM du 04/09/2024 - 00Z");
svg.append("text").attr("x",450).attr("y",695).attr("font-size","11.5px").attr("font-weight","bold").text("Copyright 2024 Meteociel.fr");
</script>
</body></html>
